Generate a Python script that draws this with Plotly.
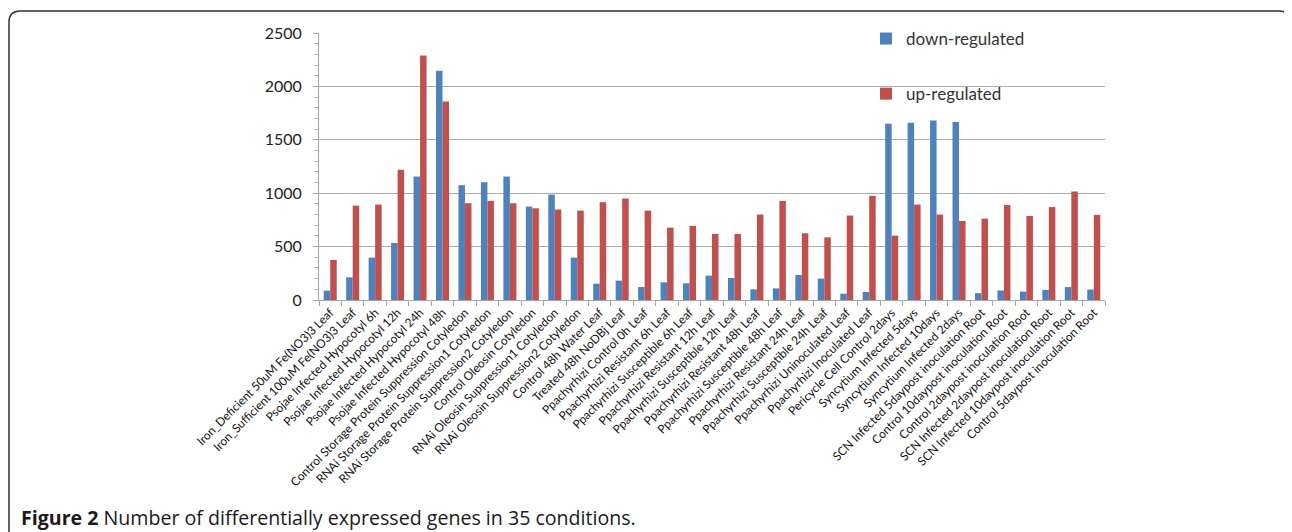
import plotly.graph_objects as go

categories = [
    "Iron_Deficient 50uM Fe(NO3)3 Leaf",
    "Iron_Sufficient 100uM Fe(NO3)3 Leaf",
    "Psojae Infected Hypocotyl 6h",
    "Psojae Infected Hypocotyl 12h",
    "Psojae Infected Hypocotyl 24h",
    "Psojae Infected Hypocotyl 48h",
    "Control Storage Protein Suppression Cotyledon",
    "RNAi Storage Protein Suppression1 Cotyledon",
    "RNAi Storage Protein Suppression2 Cotyledon",
    "Control Oleosin Cotyledon",
    "RNAi Oleosin Suppression1 Cotyledon",
    "RNAi Oleosin Suppression2 Cotyledon",
    "Control 48h Water Leaf",
    "Treated 48h NoDBj Leaf",
    "Ppachyrhizi Control 0h Leaf",
    "Ppachyrhizi Resistant 6h Leaf",
    "Ppachyrhizi Susceptible 6h Leaf",
    "Ppachyrhizi Resistant 12h Leaf",
    "Ppachyrhizi Susceptible 12h Leaf",
    "Ppachyrhizi Resistant 48h Leaf",
    "Ppachyrhizi Susceptible 48h Leaf",
    "Ppachyrhizi Resistant 24h Leaf",
    "Ppachyrhizi Susceptible 24h Leaf",
    "Ppachyrhizi Uninoculated Leaf",
    "Ppachyrhizi Inoculated Leaf",
    "Pericycle Cell Control 2days",
    "Syncytium Infected 5days",
    "Syncytium Infected 10days",
    "Syncytium Infected 2days",
    "SCN Infected 5daypost inoculation Root",
    "Control 10daypost inoculation Root",
    "Control 2daypost inoculation Root",
    "SCN Infected 2daypost inoculation Root",
    "SCN Infected 10daypost inoculation Root",
    "Control 5daypost inoculation Root",
]

down_regulated = [88, 212, 397, 534, 1156, 2147, 1075, 1103, 1156, 875,
                  987, 397, 153, 181, 122, 166, 156, 228, 206, 100,
                  109, 234, 200, 59, 75, 1650, 1659, 1681, 1666, 64,
                  89, 79, 95, 121, 98]

up_regulated = [375, 884, 894, 1219, 2290, 1859, 906, 928, 906, 859,
                847, 837, 916, 950, 837, 678, 694, 619, 619, 800,
                928, 625, 587, 791, 975, 603, 894, 800, 740, 762,
                889, 787, 870, 1016, 797]

y_ticks = [0, 500, 1000, 1500, 2000, 2500]

# page body adds an 8px offset; work in window pixels and subtract it
OFF = 8
W, H = 1292 - OFF, 532 - OFF
L, T = 319 - OFF, 33 - OFF
R = W - (1105 - OFF)
B = H - (300 - OFF)
PW, PH = W - L - R, H - T - B


def px(x):
    return (x - OFF - L) / PW


def py(y):
    return (H - B - (y - OFF)) / PH


fig = go.Figure()
fig.add_trace(go.Bar(x=categories, y=down_regulated, name="down-regulated",
                     marker=dict(color="#4F81BD", line=dict(width=0)),
                     legendgroup="a"))
fig.add_trace(go.Bar(x=categories, y=up_regulated, name="up-regulated",
                     marker=dict(color="#C0504D", line=dict(width=0)),
                     legendgroup="b"))

# rounded frame
x0, x1, y0, y1 = px(9), px(1290), py(11), py(560)
r, ry = 11 / PW, 11 / PH
path = (f"M {x0},{y1} L {x0},{y0 - ry} Q {x0},{y0} {x0 + r},{y0} "
        f"L {x1 - r},{y0} Q {x1},{y0} {x1},{y0 - ry} L {x1},{y1}")
fig.add_shape(type="path", path=path, xref="paper", yref="paper",
              line=dict(color="#333333", width=1.5))

fig.add_annotation(
    xref="paper", yref="paper", x=px(19), y=py(517), xanchor="left", yanchor="middle",
    text="<b>Figure 2</b> Number of differentially expressed genes in 35 conditions.",
    showarrow=False, font=dict(family="Open Sans", size=19.6, color="#1a1a1a"))

fig.update_layout(
    width=W, height=H,
    margin=dict(l=L, r=R, t=T, b=B, autoexpand=False),
    paper_bgcolor="white", plot_bgcolor="white",
    barmode="group", bargap=0.42, bargroupgap=0,
    font=dict(family="Lato", color="#222222"),
    legend=dict(x=px(866), y=py(21), xanchor="left", yanchor="top",
                font=dict(size=17, color="#333333"), tracegroupgap=30,
                itemwidth=30, bgcolor="rgba(0,0,0,0)"),
    xaxis=dict(tickangle=-45, tickfont=dict(size=11.9, color="#111111"),
               showline=True, linecolor="#A6A6A6", linewidth=1,
               ticks="outside", tickson="boundaries", ticklen=5,
               tickcolor="#A6A6A6", showgrid=False),
    yaxis=dict(range=[0, 2500], tickvals=y_ticks,
               tickfont=dict(size=16, color="#222222"),
               ticklabelstandoff=8,
               showline=True, linecolor="#A6A6A6", linewidth=1,
               ticks="outside", ticklen=5, tickcolor="#A6A6A6",
               showgrid=True, gridcolor="#ADADAD", gridwidth=1,
               minor=dict(dtick=100, ticks="outside", ticklen=3,
                          tickcolor="#A6A6A6", showgrid=False),
               zeroline=False),
)

fig.write_html("out.html")
